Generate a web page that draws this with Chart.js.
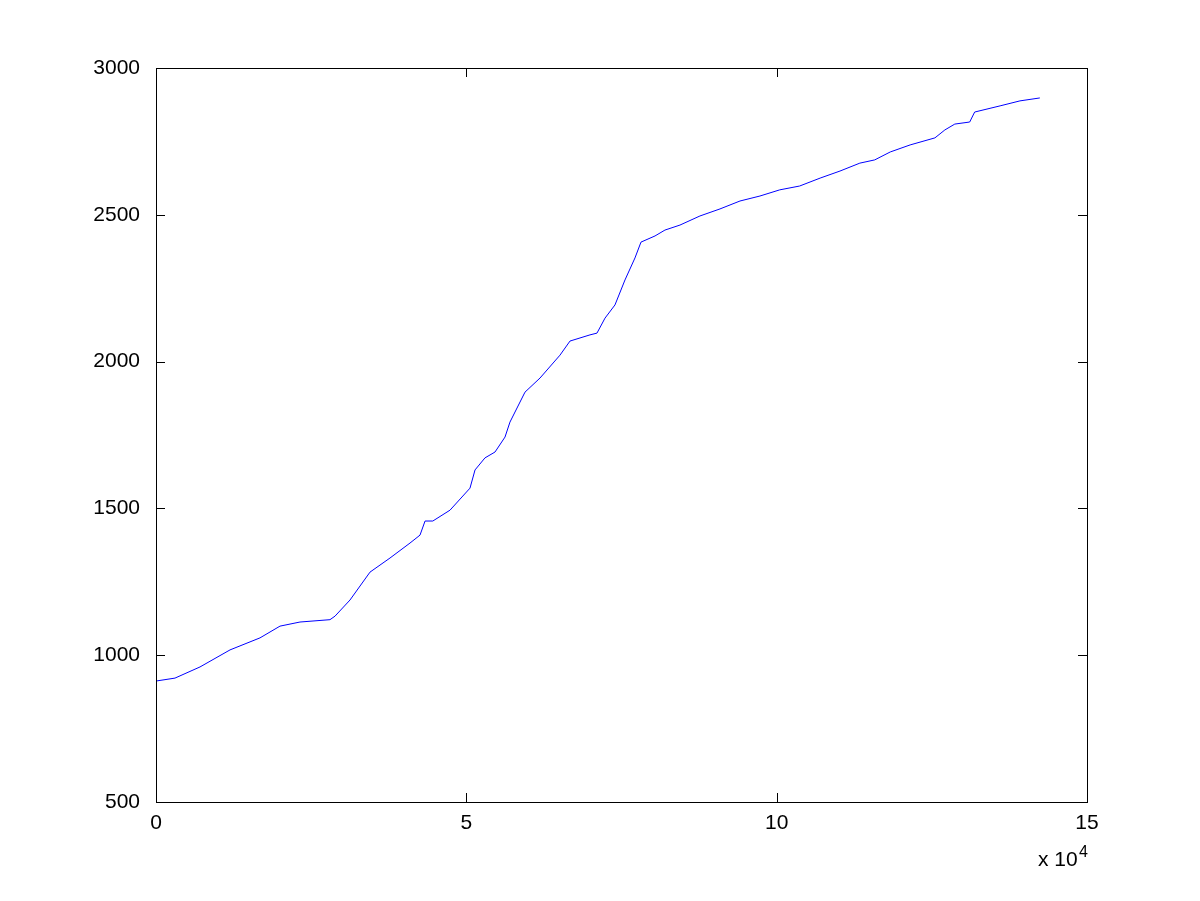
<!DOCTYPE html>
<html>
<head>
<meta charset="utf-8">
<script src="https://cdn.jsdelivr.net/npm/chart.js@4/dist/chart.umd.min.js"></script>
<style>
  html, body { margin: 0; padding: 0; background: #fff; }
  #wrap { width: 1200px; height: 901px; }
</style>
</head>
<body>
<div id="wrap"><canvas id="chart" width="1200" height="901"></canvas></div>
<script>
// samples (x in raw units, shown as x 10^4)
const xVals = [0, 3061, 7090, 11923, 16756, 19978, 23200, 28034, 28840, 31257, 34480, 37700,
  40924, 42535, 43350, 44600, 47370, 50590, 51400, 53000, 54620, 56230, 57030, 59450, 61870,
  65090, 66700, 69920, 71050, 72340, 73950, 75560, 77170, 78140, 80400, 82000, 84420, 87640,
  90870, 94090, 97310, 100500, 103700, 107000, 110200, 113400, 115800, 118300, 121500, 125500,
  127100, 128700, 131100, 131900, 136000, 139200, 142400];
const yVals = [912, 922, 960, 1018, 1059, 1099, 1113, 1121, 1133, 1188, 1283, 1331,
  1382, 1409, 1457, 1457, 1494, 1569, 1631, 1672, 1692, 1743, 1794, 1896, 1944,
  2022, 2070, 2091, 2097, 2148, 2193, 2278, 2353, 2407, 2428, 2448, 2465, 2496,
  2520, 2547, 2564, 2585, 2598, 2625, 2649, 2676, 2687, 2714, 2738, 2762,
  2789, 2809, 2816, 2850, 2871, 2888, 2898];
const xTicks = [0, 50000, 100000, 150000];
const yTicks = [500, 1000, 1500, 2000, 2500, 3000];

const points = xVals.map((x, i) => ({ x: x, y: yVals[i] }));
const tickFont = { family: 'Liberation Sans', size: 21 };

// matlab style box with inward ticks + exponent label
const matlabFrame = {
  id: 'matlabFrame',
  afterDraw(chart) {
    const ctx = chart.ctx;
    const a = chart.chartArea;
    const xs = chart.scales.x, ys = chart.scales.y;
    const len = 9;
    ctx.save();
    ctx.strokeStyle = '#000';
    ctx.lineWidth = 1;
    ctx.strokeRect(Math.round(a.left) + 0.5, Math.round(a.top) + 0.5,
      Math.round(a.right - a.left), Math.round(a.bottom - a.top));
    ctx.beginPath();
    xTicks.forEach(v => {
      const px = Math.round(xs.getPixelForValue(v)) + 0.5;
      ctx.moveTo(px, a.bottom); ctx.lineTo(px, a.bottom - len);
      ctx.moveTo(px, a.top); ctx.lineTo(px, a.top + len);
    });
    yTicks.forEach(v => {
      const py = Math.round(ys.getPixelForValue(v)) + 0.5;
      ctx.moveTo(a.left, py); ctx.lineTo(a.left + len, py);
      ctx.moveTo(a.right, py); ctx.lineTo(a.right - len, py);
    });
    ctx.stroke();
    ctx.fillStyle = '#000';
    ctx.textBaseline = 'alphabetic';
    ctx.textAlign = 'left';
    ctx.font = '21px "Liberation Sans"';
    ctx.fillText('x 10', 1038, 866);
    ctx.font = '16px "Liberation Sans"';
    ctx.fillText('4', 1079, 857);
    ctx.restore();
  }
};

new Chart(document.getElementById('chart'), {
  type: 'line',
  data: {
    datasets: [{
      data: points,
      borderColor: '#0000ff',
      borderWidth: 1,
      pointRadius: 0,
      tension: 0,
      fill: false
    }]
  },
  options: {
    responsive: false,
    animation: false,
    layout: { padding: { top: 68, right: 113, left: 0, bottom: 0 } },
    plugins: { legend: { display: false }, tooltip: { enabled: false } },
    scales: {
      x: {
        type: 'linear',
        min: 0, max: 150000,
        afterFit(s) { s.height = 99; },
        afterBuildTicks(s) { s.ticks = xTicks.map(v => ({ value: v })); },
        grid: { display: false },
        border: { display: false },
        ticks: {
          color: '#000', font: tickFont, padding: 1, maxRotation: 0,
          callback: v => String(v / 10000)
        }
      },
      y: {
        min: 500, max: 3000,
        afterFit(s) { s.width = 156; },
        afterBuildTicks(s) { s.ticks = yTicks.map(v => ({ value: v })); },
        grid: { display: false },
        border: { display: false },
        ticks: { color: '#000', font: tickFont, padding: 8, callback: v => String(v) }
      }
    }
  },
  plugins: [matlabFrame]
});
</script>
</body>
</html>
